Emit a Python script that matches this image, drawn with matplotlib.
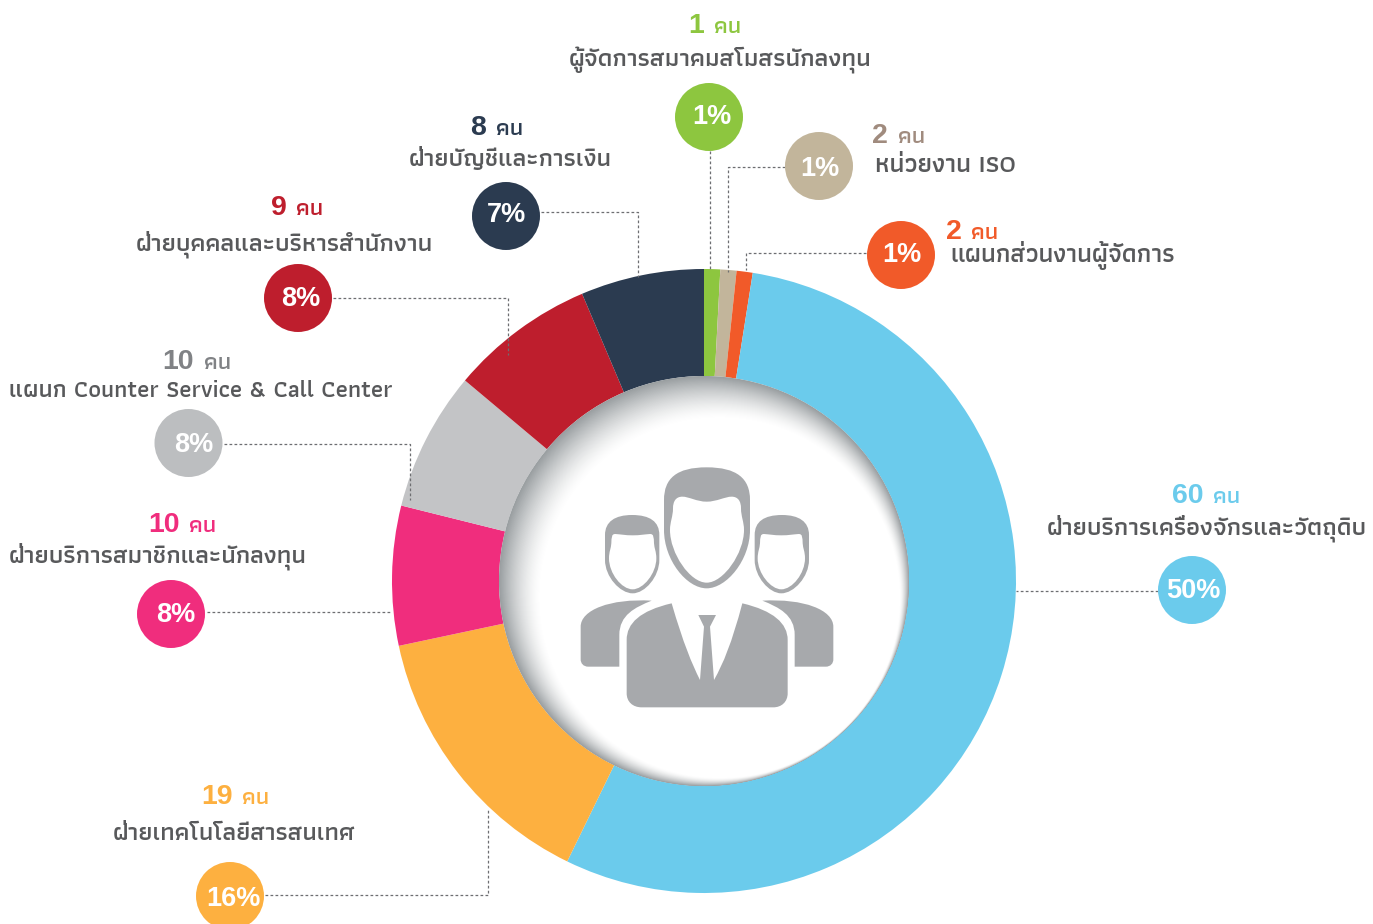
import matplotlib
matplotlib.use('Agg')
import matplotlib.pyplot as plt
from matplotlib.patches import Circle, PathPatch
from matplotlib.path import Path
import numpy as np

# ---------- data (clockwise from 12 o'clock) ----------
departments = ['ผู้จัดการสมาคมสโมสรนักลงทุน', 'หน่วยงาน ISO', 'แผนกส่วนงานผู้จัดการ',
               'ฝ่ายบริการเครื่องจักรและวัตถุดิบ', 'ฝ่ายเทคโนโลยีสารสนเทศ',
               'ฝ่ายบริการสมาชิกและนักลงทุน', 'แผนก Counter Service & Call Center',
               'ฝ่ายบุคคลและบริหารสำนักงาน', 'ฝ่ายบัญชีและการเงิน']
people = ['1', '2', '2', '60', '19', '10', '10', '9', '8']
percent_labels = ['1%', '1%', '1%', '50%', '16%', '8%', '8%', '8%', '7%']
slice_sizes = [3, 3, 3, 197, 52, 26, 26, 27, 23]

slice_colors = ['#8DC63F', '#C2B59B', '#F15A29', '#6BCBEC', '#FDB040',
                '#F02D7D', '#C3C4C6', '#BE1E2D', '#2B3B50']
bubble_colors = ['#8DC63F', '#C2B59B', '#F15A29', '#6BCBEC', '#FDB040',
                 '#F02D7D', '#BCBEC0', '#BE1E2D', '#2B3B50']
count_colors = ['#8DC63F', '#A08B7E', '#F15A29', '#6BCBEC', '#FDB040',
                '#F02D7D', '#808285', '#BE1E2D', '#2B3B50']
TEXT_COLOR = '#58595B'
ICON_COLOR = '#A7A9AC'

# ---------- layout in reference pixels (top-left origin) ----------
W, H = 1373, 924
CX, CY, R_OUT, R_IN = 704, 581, 312, 205
bubble_xy = [(709, 117), (819, 166), (901, 255), (1192, 590), (230, 896),
             (171, 614), (188.5, 443), (298, 298), (506, 216)]
percent_xy = [(712, 116), (820, 167), (902, 254), (1193, 590), (233, 897),
              (176, 613), (194, 444), (301, 297), (507, 213)]
BUBBLE_R = 34
name_span = [(569, 872, 66), (875, 1016, 172), (950, 1175, 262), (1047, 1368, 534),
             (113, 355, 840), (9, 307, 563), (9, 392, 397), (136, 434, 250), (409, 612, 166)]
number_pos = [(696, 33), (880, 143), (953.5, 239), (1188, 503), (217, 804),
              (163.5, 532), (178.5, 369), (279, 215), (478, 135)]
unit_span = [(714, 741), (898, 925), (971, 998), (1213, 1240), (242, 269),
             (189, 216), (204, 231), (296, 323), (496, 523)]
leaders = [[(710, 151), (710, 269)],
           [(785, 167), (728, 167), (728, 272)],
           [(866, 253), (746, 253), (746, 270)],
           [(1158, 591), (1016, 591)],
           [(265, 895), (488, 895), (488, 808)],
           [(207, 612), (392, 612)],
           [(224, 444), (410, 444), (410, 500)],
           [(333, 298), (508, 298), (508, 355)],
           [(541, 212), (638, 212), (638, 277)]]

THAI = ['Athiti', 'Anuphan', 'DejaVu Sans']
LATIN = ['Liberation Sans', 'DejaVu Sans']


def Y(y):
    return H - y


fig = plt.figure(figsize=(W / 100, H / 100), dpi=100, facecolor='white')
ax = fig.add_axes([0, 0, 1, 1])
ax.pie(slice_sizes, colors=slice_colors, startangle=90, counterclock=False,
       radius=R_OUT, center=(CX, Y(CY)), frame=True,
       wedgeprops=dict(width=R_OUT - R_IN, linewidth=0))
ax.set_xlim(0, W)
ax.set_ylim(0, H)
ax.set_axis_off()

# inner shaded well: nested circles drifting from the hole edge to the white disc
n_steps = 80
for i in range(n_steps):
    t = i / (n_steps - 1)
    cx = CX + t * 16
    cy = CY + t * 17
    r = R_IN - t * 25
    g = 1 - (1 - t) ** 1.5
    c = np.array([0.60, 0.62, 0.63]) * (1 - g) + g
    ax.add_patch(Circle((cx, Y(cy)), r, fc=tuple(c), ec='none', zorder=3))


# ---------- centre icon, traced in crop coordinates ----------
def ic(X, Yv, mirror=False):
    X = 882 - X if mirror else X
    return (560 + X / 3, Y(450 + Yv / 3))


def shape(start, segs, fc, mirror=False, z=4):
    verts = [ic(*start, mirror)]
    codes = [Path.MOVETO]
    for s in segs:
        if len(s) == 2:
            verts.append(ic(*s, mirror))
            codes.append(Path.LINETO)
        else:
            for k in range(0, 6, 2):
                verts.append(ic(s[k], s[k + 1], mirror))
                codes.append(Path.CURVE4)
    verts.append(verts[0])
    codes.append(Path.CLOSEPOLY)
    ax.add_patch(PathPatch(Path(verts, codes), fc=fc, ec='none', zorder=z))


# centre head
shape((440, 52), [(530, 52, 570, 85, 570, 150), (570, 240),
                  (570, 330, 500, 415, 440, 415), (380, 415, 312, 330, 312, 240),
                  (312, 150), (312, 85, 350, 52, 440, 52)], ICON_COLOR)
shape((440, 155), [(470, 155, 495, 140, 515, 140), (535, 140, 543, 155, 543, 175),
                   (543, 200, 552, 215, 552, 240), (552, 310, 490, 398, 440, 398),
                   (390, 398, 330, 310, 330, 240), (330, 215, 339, 200, 339, 175),
                   (339, 155, 347, 140, 367, 140), (387, 140, 410, 155, 440, 155)],
      'white', z=5)
# centre suit
shape((335, 460), [(370, 580, 395, 640, 420, 690), (432, 530), (415, 495), (468, 495),
                   (450, 530), (462, 690), (490, 640, 515, 580, 547, 460),
                   (640, 482, 683, 520, 683, 570), (683, 730),
                   (683, 755, 665, 772, 640, 772), (245, 772),
                   (218, 772, 200, 755, 200, 730), (200, 570),
                   (200, 520, 240, 482, 335, 460)], ICON_COLOR)
# side figures
for m in (False, True):
    shape((216, 195), [(270, 195, 298, 215, 298, 255), (298, 330),
                       (298, 380, 255, 430, 218, 430), (180, 430, 135, 380, 135, 330),
                       (135, 255), (135, 215, 165, 195, 216, 195)], ICON_COLOR, m)
    shape((218, 256), [(240, 256, 255, 253, 270, 252), (282, 252, 281, 262, 282, 280),
                       (283, 295, 289, 305, 289, 325), (289, 370, 250, 418, 218, 418),
                       (185, 418, 147, 370, 147, 325), (147, 305, 153, 295, 154, 280),
                       (155, 262, 154, 252, 166, 252), (181, 253, 196, 256, 218, 256)],
          'white', m, z=5)
    shape((275, 452), [(225, 472, 178, 495, 178, 555), (178, 650), (85, 650),
                       (70, 650, 62, 640, 62, 628), (62, 530),
                       (62, 480, 150, 445, 275, 452)], ICON_COLOR, m)

# ---------- leaders ----------
for pts in leaders:
    xs = [p[0] for p in pts]
    ys = [Y(p[1]) for p in pts]
    ax.plot(xs, ys, color='#6D6E71', lw=0.9, ls=(0, (2.2, 1.8)), zorder=6,
            dash_capstyle='butt')

renderer = fig.canvas.get_renderer()


def fit_text(x0, x1, baseline, s, color, family, weight, start):
    t = ax.text(x0, Y(baseline), s, color=color, family=family, weight=weight,
                fontsize=start, ha='left', va='baseline', zorder=8)
    w = t.get_window_extent(renderer).width
    t.set_fontsize(start * (x1 - x0) / w)
    return t


# ---------- bubbles, percentages, labels ----------
for i in range(len(departments)):
    bx, by = bubble_xy[i]
    ax.add_patch(Circle((bx, Y(by)), BUBBLE_R, fc=bubble_colors[i], ec='none', zorder=7))
    px, py = percent_xy[i]
    ax.text(px, Y(py) - 1.5, percent_labels[i], color='white', family=LATIN,
            weight='bold', fontsize=19.5, ha='center', va='center', zorder=8)
    x0, x1, base = name_span[i]
    fit_text(x0, x1, base, departments[i], TEXT_COLOR, THAI, 600, 18)
    nx, nb = number_pos[i]
    ax.text(nx, Y(nb), people[i], color=count_colors[i], family=LATIN, weight='bold',
            fontsize=20.5, ha='center', va='baseline', zorder=8)
    ux0, ux1 = unit_span[i]
    fit_text(ux0, ux1, nb, 'คน', count_colors[i], THAI, 600, 18)

fig.savefig('out.png', dpi=100, facecolor='white')
